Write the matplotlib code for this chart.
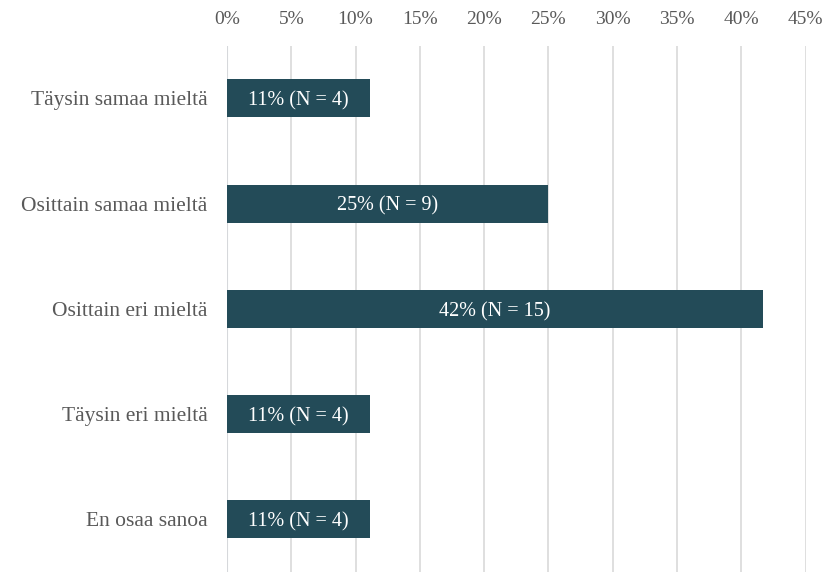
import numpy as np
import matplotlib.pyplot as plt
from matplotlib.ticker import MultipleLocator, FuncFormatter

categories = ["Täysin samaa mieltä", "Osittain samaa mieltä", "Osittain eri mieltä",
              "Täysin eri mieltä", "En osaa sanoa"]
counts = [4, 9, 15, 4, 4]
total = 36
shares = [c / total * 100 for c in counts]

plt.rcParams['font.family'] = ['Liberation Serif', 'DejaVu Serif']

fig = plt.figure(figsize=(8.3, 5.72), dpi=100)
ax = fig.add_axes([0.2735, 0.0, 0.9705 - 0.2735, 0.92])

y = np.arange(len(categories))
ax.barh(y, shares, height=0.36, color='#234b58', zorder=3)
for yi, s, c in zip(y, shares, counts):
    ax.text(s / 2, yi, f"{round(s):.0f}% (N = {c})", ha='center', va='center_baseline',
            color='white', fontsize=14.5, zorder=4)

ax.set_xlim(0, 45)
ax.set_ylim(len(categories) - 0.5, -0.5)
ax.xaxis.set_major_locator(MultipleLocator(5))
ax.xaxis.set_major_formatter(FuncFormatter(lambda v, p: f"{v:.0f}%"))
ax.xaxis.tick_top()
ax.tick_params(axis='x', length=0, pad=13, labelsize=14, labelcolor='#595959')
ax.tick_params(axis='y', length=0, pad=14, labelsize=15.5, labelcolor='#595959')
ax.set_yticks(y)
ax.set_yticklabels(categories)
ax.grid(axis='x', color='#d9d9d9', linewidth=1.2, zorder=0)
ax.axvline(0, color='#ccd6e6', linewidth=1.5, zorder=1)
for sp in ax.spines.values():
    sp.set_visible(False)

fig.savefig("out.png", dpi=100)
